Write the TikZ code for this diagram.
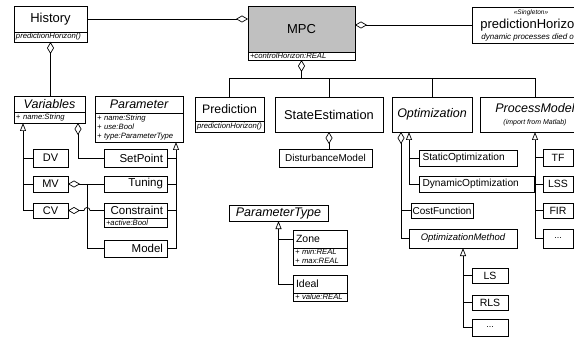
\documentclass[tikz,border=0pt]{standalone}
\usepackage{fontspec}
\setmainfont{Liberation Sans}
\usetikzlibrary{arrows.meta,shadows,calc}
\definecolor{mpcgray}{RGB}{192,192,192}
\newcommand\fsz[1]{\fontsize{#1}{#1}\selectfont}
\begin{document}
\begin{tikzpicture}[x=1pt,y=-1pt,
  cls/.style={draw, fill=white, inner sep=0pt, outer sep=0pt, line width=0.6pt,
    drop shadow={shadow xshift=1pt,shadow yshift=-1pt,fill=black!55,opacity=1}},
  att/.style={draw, fill=white, inner xsep=2pt, inner ysep=0pt, outer sep=0pt, line width=0.6pt,
    anchor=north, align=left, font=\fontsize{7.7}{9.3}\selectfont\itshape,
    drop shadow={shadow xshift=1pt,shadow yshift=-1pt,fill=black!55,opacity=1}},
  con/.style={line width=0.7pt},
  agg/.style={con, {Diamond[open,length=12pt,width=7pt]}-},
  inh/.style={con, -{Triangle[open,length=8pt,width=6pt]}},
]
\useasboundingbox (0,0) rectangle (574,337);
\fill[white] (0,0) rectangle (574,337);
\clip (0,0) rectangle (574,337);

% ---- top row
\node[cls, minimum width=73pt, minimum height=26pt, font=\fsz{13}] (hist) at (50.5,19) {History};
\node[att, minimum width=73pt, text width=69pt, minimum height=10pt] (histA) at (hist.south) {predictionHorizon()};

\node[cls, fill=mpcgray, minimum width=107pt, minimum height=46pt, font=\fsz{13}] (mpc) at (301.5,29) {MPC};
\node[att, minimum width=107pt, text width=103pt, minimum height=8pt] (mpcA) at (mpc.south) {+controlHorizon:REAL};

\node[cls, minimum width=118pt, minimum height=36pt, align=center, font=\fontsize{8}{11}\selectfont] (ph) at (531,25)
  {{\fsz{6.5}\itshape \textless\textless Singleton\textgreater\textgreater}\\[3pt]{\fsz{13}predictionHorizon}\\{\fsz{8}\itshape dynamic processes died out}};

% ---- second row
\node[cls, minimum width=69pt, minimum height=24pt, font=\fsz{12.3}] (pred) at (229.5,109) {Prediction};
\node[att, minimum width=69pt, text width=65pt, minimum height=11pt] (predA) at (pred.south) {predictionHorizon()};

\node[cls, minimum width=108pt, minimum height=35pt, font=\fsz{12.8}] (se) at (329,114.5) {StateEstimation};
\node[cls, minimum width=80pt, minimum height=35pt, font=\fsz{12.5}\itshape] (opt) at (432,114.5) {Optimization};
\node[cls, minimum width=110pt, minimum height=35pt, align=center, font=\fontsize{7}{9}\selectfont] (pm) at (535,114.5)
  {{\fsz{12.5}\itshape ProcessModel}\\[3pt]{\itshape (import from Matlab)}};

\node[cls, minimum width=93pt, minimum height=18pt, font=\fsz{10}] (dm) at (325.5,158) {DisturbanceModel};

% ---- Optimization children
\node[cls, minimum width=98pt, minimum height=16pt, text width=91pt, align=left, font=\fsz{10.2}] (stat) at (468,158) {StaticOptimization};
\node[cls, minimum width=115pt, minimum height=16pt, text width=108pt, align=left, font=\fsz{10.2}] (dyn) at (476.5,184) {DynamicOptimization};
\node[cls, minimum width=62pt, minimum height=15pt, font=\fsz{10}] (cf) at (442,210.5) {CostFunction};
\node[cls, minimum width=108pt, minimum height=19pt, font=\fsz{9.5}\itshape] (om) at (463,238.5) {OptimizationMethod};
\node[cls, minimum width=36pt, minimum height=15pt, font=\fsz{10.5}] (ls) at (490,275.5) {LS};
\node[cls, minimum width=36pt, minimum height=15pt, font=\fsz{10.5}] (rls) at (490,302.5) {RLS};
\node[cls, minimum width=36pt, minimum height=17pt, font=\fsz{9}] (dots2) at (490,327.5) {...};

% ---- ProcessModel children
\node[cls, minimum width=30pt, minimum height=17pt, font=\fsz{10.5}] (tf) at (558,157.5) {TF};
\node[cls, minimum width=30pt, minimum height=16pt, font=\fsz{10.5}] (lss) at (558,184) {LSS};
\node[cls, minimum width=30pt, minimum height=15pt, font=\fsz{10.5}] (fir) at (558,210.5) {FIR};
\node[cls, minimum width=30pt, minimum height=19pt, font=\fsz{9}] (pmdots) at (558,238.5) {...};

% ---- Variables / Parameter
\node[cls, minimum width=71pt, minimum height=16pt, font=\fsz{12.5}\itshape] (var) at (49.5,104) {Variables};
\node[att, minimum width=71pt, text width=67pt, minimum height=11pt] (varA) at (var.south) {+ name:String};

\node[cls, minimum width=88pt, minimum height=17pt, font=\fsz{12.5}\itshape] (par) at (139,104.5) {Parameter};
\node[att, minimum width=88pt, text width=84pt, minimum height=29pt] (parA) at (par.south) {+ name:String\\+ use:Bool\\+ type:ParameterType};

\node[cls, minimum width=35pt, minimum height=18pt, font=\fsz{11}] (dv) at (50.5,158) {DV};
\node[cls, minimum width=35pt, minimum height=16pt, font=\fsz{11}] (mv) at (50.5,184) {MV};
\node[cls, minimum width=35pt, minimum height=15pt, font=\fsz{11}] (cv) at (50.5,210.5) {CV};

\node[cls, minimum width=63pt, minimum height=18pt, text width=55pt, align=right, font=\fsz{11.5}] (sp) at (135.5,158) {SetPoint};
\node[cls, minimum width=63pt, minimum height=16pt, text width=55pt, align=right, font=\fsz{11.5}] (tun) at (135.5,184) {Tuning};
\node[cls, minimum width=63pt, minimum height=15pt, text width=55pt, align=right, font=\fsz{11.5}] (cons) at (135.5,210.5) {Constraint};
\node[att, minimum width=63pt, text width=59pt, minimum height=9pt] (consA) at (cons.south) {+active:Bool};
\node[cls, minimum width=63pt, minimum height=17pt, text width=55pt, align=right, font=\fsz{11.5}] (model) at (135.5,248.5) {Model};

% ---- ParameterType
\node[cls, minimum width=99pt, minimum height=16pt, font=\fsz{12.5}\itshape] (ptype) at (278.5,213) {ParameterType};
\node[cls, minimum width=54pt, minimum height=18pt, text width=48pt, align=left, font=\fsz{10.5}] (zone) at (320,239) {Zone};
\node[att, minimum width=54pt, text width=50pt, minimum height=17pt] (zoneA) at (zone.south) {+ min:REAL\\+ max:REAL};
\node[cls, minimum width=54pt, minimum height=18pt, text width=48pt, align=left, font=\fsz{10.5}] (ideal) at (320,284) {Ideal};
\node[att, minimum width=54pt, text width=50pt, minimum height=8pt] (idealA) at (ideal.south) {+ value:REAL};

% ---- connectors: MPC
\coordinate (busY) at (0,78);
\draw[agg] (mpcA.south) -- (mpcA.south |- busY);
\draw[con] (pred.north) |- (pm.north |- busY) -- (pm.north);
\draw[con] (se.north) -- (se.north |- busY);
\draw[con] (opt.north) -- (opt.north |- busY);
\draw[agg] (mpc.west |- hist.east) -- (hist.east);
\draw[agg] (mpc.east |- ph.west) -- (ph.west);
\draw[agg] (histA.south) -- (histA.south |- var.north);

% Variables
\coordinate (vt) at ($(varA.south west)+(9pt,0)$);
\draw[inh] (cv.west) -| (vt);
\draw[con] (dv.west) -- (dv.west -| vt);
\draw[con] (mv.west) -- (mv.west -| vt);
\coordinate (vd) at ($(varA.south east)+(-7pt,0)$);
\draw[agg] (vd) |- (sp.west);

% Parameter
\coordinate (ptr) at ($(parA.south east)+(-7pt,0)$);
\draw[inh] (model.east) -| (ptr);
\draw[con] (sp.east) -- (sp.east -| ptr);
\draw[con] (tun.east) -- (tun.east -| ptr);
\draw[con] (cons.east) -- (cons.east -| ptr);

% MV / CV aggregation
\coordinate (jx) at (87,0);
\draw[agg] (mv.east) -- (tun.west);
\draw[con] (mv.east -| jx) |- (model.west);
\coordinate (hopL) at ($(cv.east -| jx)+(-3pt,0)$);
\draw[agg] (cv.east) -- (hopL) arc[start angle=180,end angle=0,radius=3pt] -- (cons.west);

% StateEstimation
\draw[agg] (se.south) -- (se.south |- dm.north);

% Optimization
\coordinate (od) at ($(opt.south west)+(9pt,0)$);
\coordinate (ot) at ($(opt.south west)+(17pt,0)$);
\draw[inh] (dyn.west) -| (ot);
\draw[con] (stat.west) -- (stat.west -| ot);
\draw[agg] (od) |- (om.west);
\draw[con] (cf.west) -- (cf.west -| od);

\draw[inh] (dots2.west) -| (om.south);
\draw[con] (ls.west) -- (ls.west -| om.south);
\draw[con] (rls.west) -- (rls.west -| om.south);

% ProcessModel
\draw[inh] (pmdots.west) -| (pm.south);
\draw[con] (tf.west) -- (tf.west -| pm.south);
\draw[con] (lss.west) -- (lss.west -| pm.south);
\draw[con] (fir.west) -- (fir.west -| pm.south);

% ParameterType
\draw[inh] (ideal.west) -| (ptype.south);
\draw[con] (zone.west) -- (zone.west -| ptype.south);
\end{tikzpicture}
\end{document}
